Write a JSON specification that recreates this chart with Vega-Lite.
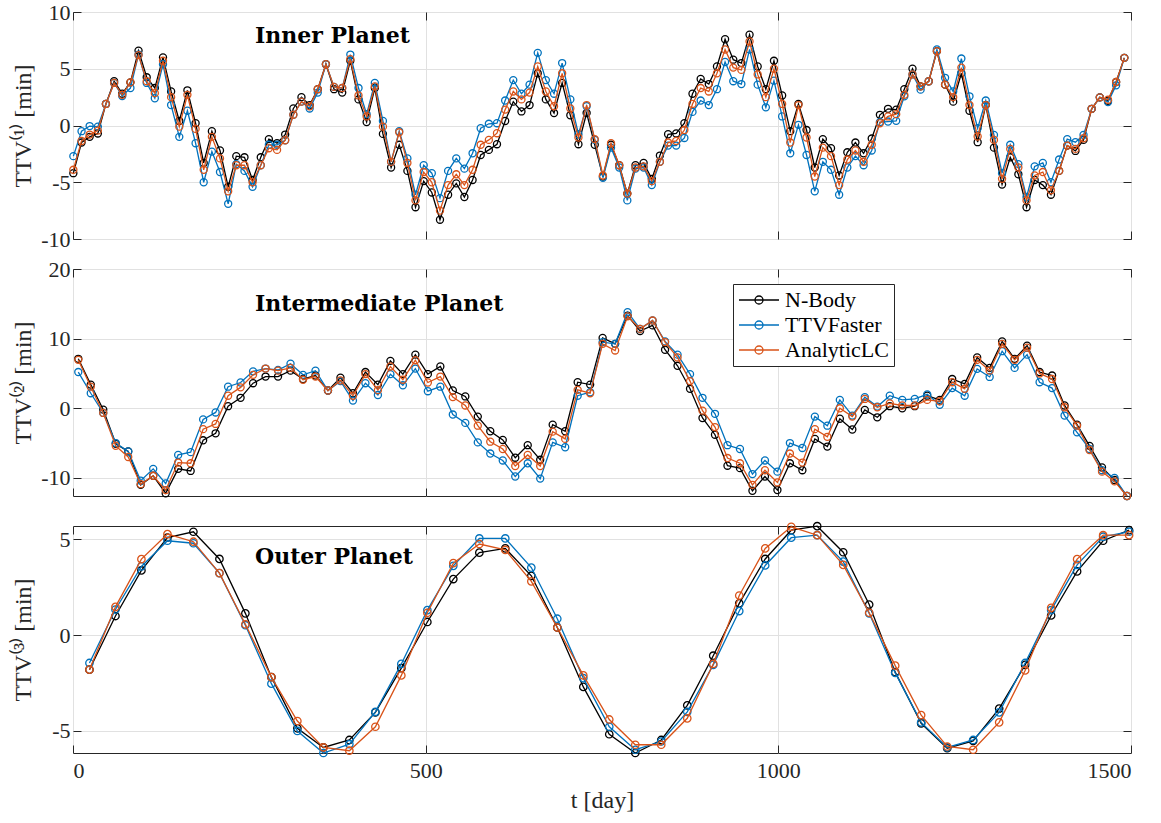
{
  "$schema": "https://vega.github.io/schema/vega-lite/v6.json",
  "background": "white",
  "padding": {"left": 10, "top": 0, "right": 5, "bottom": 5},
  "bounds": "flush",
  "spacing": 30,
  "datasets": {
    "p1": [
      {"t":0.5,"N":-4.2,"T":-2.7,"A":-3.9},{"t":12.1,"N":-1.5,"T":-0.5,"A":-1.36},{"t":23.6,"N":-1.0,"T":-0.05,"A":-0.8},{"t":35.2,"N":-0.7,"T":-0.1,"A":-0.45},
      {"t":46.7,"N":1.9,"T":1.9,"A":1.9},{"t":58.3,"N":3.9,"T":3.75,"A":3.75},{"t":69.8,"N":2.8,"T":2.6,"A":2.7},{"t":81.4,"N":3.8,"T":3.3,"A":3.8},
      {"t":92.9,"N":6.6,"T":6.25,"A":6.2},{"t":104.5,"N":4.25,"T":3.75,"A":3.9},{"t":116.0,"N":3.3,"T":2.4,"A":2.85},{"t":127.6,"N":6.0,"T":5.4,"A":5.7},
      {"t":139.1,"N":3.0,"T":1.8,"A":2.5},{"t":150.7,"N":0.4,"T":-1.0,"A":-0.1},{"t":162.2,"N":3.1,"T":1.3,"A":2.7},{"t":173.8,"N":0.2,"T":-1.56,"A":-0.3},
      {"t":185.3,"N":-3.3,"T":-5.0,"A":-3.9},{"t":196.9,"N":-0.5,"T":-2.3,"A":-1.0},{"t":208.4,"N":-2.2,"T":-4.1,"A":-2.9},{"t":220.0,"N":-5.4,"T":-6.9,"A":-5.8},
      {"t":231.5,"N":-2.7,"T":-3.4,"A":-3.5},{"t":243.1,"N":-2.8,"T":-4.0,"A":-3.5},{"t":254.6,"N":-4.8,"T":-5.4,"A":-5.0},{"t":266.2,"N":-2.8,"T":-3.5,"A":-3.5},
      {"t":277.7,"N":-1.2,"T":-1.7,"A":-2.0},{"t":289.3,"N":-1.56,"T":-1.7,"A":-2.15},{"t":300.8,"N":-0.8,"T":-1.3,"A":-1.3},{"t":312.4,"N":1.5,"T":0.95,"A":0.95},
      {"t":323.9,"N":2.5,"T":2.1,"A":2.1},{"t":335.5,"N":1.8,"T":1.5,"A":1.7},{"t":347.0,"N":3.2,"T":2.9,"A":3.2},{"t":358.6,"N":5.4,"T":5.4,"A":5.4},
      {"t":370.1,"N":3.2,"T":3.4,"A":3.4},{"t":381.7,"N":2.9,"T":3.3,"A":3.3},{"t":393.2,"N":5.7,"T":6.25,"A":5.85},{"t":404.8,"N":2.3,"T":3.3,"A":2.65},
      {"t":416.3,"N":0.3,"T":1.0,"A":0.8},{"t":427.9,"N":3.3,"T":3.75,"A":3.45},{"t":439.4,"N":-0.74,"T":0.4,"A":-0.1},{"t":451.0,"N":-3.7,"T":-3.2,"A":-3.2},
      {"t":462.5,"N":-1.7,"T":-0.5,"A":-0.6},{"t":474.1,"N":-4.0,"T":-2.9,"A":-3.3},{"t":485.6,"N":-7.2,"T":-6.1,"A":-6.6},{"t":497.2,"N":-4.9,"T":-3.5,"A":-4.1},
      {"t":508.7,"N":-5.9,"T":-4.2,"A":-5.0},{"t":520.3,"N":-8.3,"T":-6.4,"A":-7.5},{"t":531.8,"N":-6.1,"T":-4.0,"A":-5.25},{"t":543.4,"N":-5.1,"T":-2.9,"A":-4.3},
      {"t":554.9,"N":-6.3,"T":-3.8,"A":-5.25},{"t":566.5,"N":-4.8,"T":-2.45,"A":-3.9},{"t":578.0,"N":-2.6,"T":-0.24,"A":-1.7},{"t":589.6,"N":-2.15,"T":0.15,"A":-1.27},
      {"t":601.1,"N":-1.65,"T":0.2,"A":-0.68},{"t":612.7,"N":0.4,"T":2.2,"A":1.4},{"t":624.2,"N":2.1,"T":4.0,"A":3.0},{"t":635.8,"N":1.24,"T":2.8,"A":2.3},
      {"t":647.3,"N":1.8,"T":3.6,"A":2.9},{"t":658.9,"N":4.6,"T":6.4,"A":5.2},{"t":670.4,"N":2.3,"T":4.0,"A":3.0},{"t":682.0,"N":1.1,"T":2.8,"A":1.7},
      {"t":693.5,"N":3.75,"T":5.5,"A":4.6},{"t":705.1,"N":0.9,"T":2.3,"A":1.5},{"t":716.6,"N":-1.65,"T":-0.77,"A":-1.06},{"t":728.2,"N":1.1,"T":1.7,"A":1.8},
      {"t":739.7,"N":-1.7,"T":-1.27,"A":-1.2},{"t":751.3,"N":-4.5,"T":-4.6,"A":-4.4},{"t":762.8,"N":-1.7,"T":-1.95,"A":-1.56},{"t":774.4,"N":-3.5,"T":-3.7,"A":-3.5},
      {"t":785.9,"N":-6.0,"T":-6.6,"A":-6.0},{"t":797.5,"N":-3.5,"T":-3.8,"A":-3.7},{"t":809.0,"N":-3.3,"T":-3.7,"A":-3.6},{"t":820.6,"N":-4.7,"T":-5.25,"A":-4.9},
      {"t":832.1,"N":-2.65,"T":-3.2,"A":-3.2},{"t":843.7,"N":-0.77,"T":-1.77,"A":-1.5},{"t":855.2,"N":-0.7,"T":-1.77,"A":-1.36},{"t":866.8,"N":0.2,"T":-1.1,"A":-0.4},
      {"t":878.3,"N":2.8,"T":1.2,"A":1.9},{"t":889.9,"N":4.1,"T":2.2,"A":3.3},{"t":901.4,"N":3.65,"T":1.8,"A":3.0},{"t":913.0,"N":5.2,"T":3.2,"A":4.6},
      {"t":924.5,"N":7.6,"T":5.6,"A":6.7},{"t":936.1,"N":5.8,"T":3.9,"A":5.1},{"t":947.6,"N":5.5,"T":3.65,"A":4.9},{"t":959.2,"N":8.0,"T":6.7,"A":7.4},
      {"t":970.7,"N":5.2,"T":3.6,"A":4.5},{"t":982.3,"N":3.2,"T":1.6,"A":2.5},{"t":993.8,"N":5.7,"T":3.95,"A":5.0},{"t":1005.4,"N":2.65,"T":0.8,"A":1.9},
      {"t":1016.9,"N":-0.5,"T":-2.45,"A":-1.5},{"t":1028.5,"N":1.9,"T":0.06,"A":1.8},{"t":1040.0,"N":-0.4,"T":-2.6,"A":-1.06},{"t":1051.6,"N":-3.7,"T":-5.8,"A":-4.5},
      {"t":1063.1,"N":-1.2,"T":-3.2,"A":-1.95},{"t":1074.7,"N":-2.0,"T":-3.9,"A":-2.7},{"t":1086.2,"N":-4.4,"T":-6.1,"A":-5.25},{"t":1097.8,"N":-2.36,"T":-3.7,"A":-3.0},
      {"t":1109.3,"N":-1.5,"T":-2.7,"A":-2.2},{"t":1120.9,"N":-2.45,"T":-3.5,"A":-3.2},{"t":1132.4,"N":-1.15,"T":-2.2,"A":-1.7},{"t":1144.0,"N":0.94,"T":0.3,"A":0.2},
      {"t":1155.5,"N":1.47,"T":0.35,"A":0.8},{"t":1167.1,"N":1.39,"T":0.41,"A":1.0},{"t":1178.6,"N":3.2,"T":2.57,"A":2.7},{"t":1190.2,"N":5.0,"T":4.5,"A":4.5},
      {"t":1201.7,"N":3.45,"T":3.16,"A":3.45},{"t":1213.3,"N":3.9,"T":3.9,"A":3.9},{"t":1224.8,"N":6.55,"T":6.7,"A":6.55},{"t":1236.4,"N":3.6,"T":4.2,"A":3.6},
      {"t":1247.9,"N":2.1,"T":3.0,"A":2.5},{"t":1259.5,"N":4.6,"T":5.9,"A":5.1},{"t":1271.0,"N":1.3,"T":2.57,"A":1.8},{"t":1282.6,"N":-1.47,"T":-0.24,"A":-0.97},
      {"t":1294.1,"N":1.8,"T":2.2,"A":1.8},{"t":1305.7,"N":-1.95,"T":-0.83,"A":-1.27},{"t":1317.2,"N":-5.2,"T":-4.2,"A":-4.7},{"t":1328.8,"N":-2.8,"T":-1.7,"A":-2.06},
      {"t":1340.3,"N":-4.3,"T":-3.4,"A":-3.7},{"t":1351.9,"N":-7.2,"T":-6.3,"A":-6.6},{"t":1363.4,"N":-4.8,"T":-3.6,"A":-4.4},{"t":1375.0,"N":-5.25,"T":-3.3,"A":-4.1},
      {"t":1386.5,"N":-6.1,"T":-5.0,"A":-5.7},{"t":1398.1,"N":-4.0,"T":-3.0,"A":-4.0},{"t":1409.6,"N":-1.77,"T":-1.2,"A":-1.77},{"t":1421.2,"N":-2.24,"T":-1.47,"A":-2.06},
      {"t":1432.7,"N":-1.27,"T":-0.83,"A":-1.12},{"t":1444.3,"N":1.47,"T":1.47,"A":1.47},{"t":1455.8,"N":2.48,"T":2.48,"A":2.48},{"t":1467.4,"N":2.18,"T":2.06,"A":2.27},
      {"t":1478.9,"N":3.83,"T":3.54,"A":3.83},{"t":1490.5,"N":5.96,"T":5.96,"A":5.96}
    ],
    "p2": [
      {"t":7.5,"N":7.1,"T":5.2,"A":6.95},{"t":25.2,"N":3.4,"T":2.16,"A":3.1},{"t":42.9,"N":-0.2,"T":-0.67,"A":-0.67},{"t":60.6,"N":-5.1,"T":-5.0,"A":-5.4},
      {"t":78.3,"N":-6.2,"T":-6.2,"A":-7.0},{"t":96.0,"N":-11.0,"T":-10.4,"A":-10.9},{"t":113.7,"N":-9.7,"T":-8.7,"A":-9.7},{"t":131.4,"N":-12.2,"T":-10.8,"A":-11.75},
      {"t":149.1,"N":-8.7,"T":-6.7,"A":-7.8},{"t":166.8,"N":-9.0,"T":-6.3,"A":-7.9},{"t":184.5,"N":-4.6,"T":-1.6,"A":-3.0},{"t":202.2,"N":-3.6,"T":-0.6,"A":-2.25},
      {"t":219.9,"N":0.3,"T":3.1,"A":1.8},{"t":237.6,"N":1.5,"T":3.7,"A":3.0},{"t":255.3,"N":3.6,"T":5.3,"A":4.8},{"t":273.0,"N":4.55,"T":5.7,"A":5.7},
      {"t":290.7,"N":4.55,"T":5.5,"A":5.4},{"t":308.4,"N":5.4,"T":6.4,"A":5.8},{"t":326.1,"N":4.2,"T":4.8,"A":4.1},{"t":343.8,"N":4.7,"T":5.4,"A":4.55},
      {"t":361.5,"N":2.55,"T":2.55,"A":2.55},{"t":379.2,"N":4.4,"T":3.9,"A":4.0},{"t":396.9,"N":2.16,"T":1.1,"A":1.8},{"t":414.6,"N":5.2,"T":3.6,"A":4.9},
      {"t":432.3,"N":3.4,"T":1.9,"A":2.6},{"t":450.0,"N":6.8,"T":4.9,"A":6.0},{"t":467.7,"N":4.9,"T":3.3,"A":4.1},{"t":485.4,"N":7.7,"T":5.7,"A":6.9},
      {"t":503.1,"N":4.9,"T":2.45,"A":3.7},{"t":520.8,"N":6.0,"T":3.1,"A":4.55},{"t":538.5,"N":2.55,"T":-0.9,"A":1.6},{"t":556.2,"N":1.7,"T":-2.1,"A":0.4},
      {"t":573.9,"N":-1.2,"T":-4.9,"A":-2.5},{"t":591.6,"N":-3.3,"T":-6.5,"A":-4.8},{"t":609.3,"N":-4.55,"T":-7.5,"A":-5.85},{"t":627.0,"N":-7.1,"T":-9.8,"A":-8.3},
      {"t":644.7,"N":-5.3,"T":-7.9,"A":-6.7},{"t":662.4,"N":-7.4,"T":-10.1,"A":-8.3},{"t":680.1,"N":-2.35,"T":-4.9,"A":-3.36},{"t":697.8,"N":-3.3,"T":-5.6,"A":-4.4},
      {"t":715.5,"N":3.74,"T":1.8,"A":2.64},{"t":733.2,"N":3.4,"T":2.3,"A":2.16},{"t":750.9,"N":10.1,"T":9.5,"A":9.25},{"t":768.6,"N":9.25,"T":9.25,"A":8.3},
      {"t":786.3,"N":13.3,"T":13.8,"A":13.2},{"t":804.0,"N":11.1,"T":11.4,"A":11.4},{"t":821.7,"N":11.9,"T":12.6,"A":12.6},{"t":839.4,"N":8.4,"T":9.6,"A":9.5},
      {"t":857.1,"N":6.1,"T":7.7,"A":7.3},{"t":874.8,"N":2.8,"T":4.9,"A":3.9},{"t":892.5,"N":-1.4,"T":1.5,"A":-0.34},{"t":910.2,"N":-3.8,"T":-0.8,"A":-2.7},
      {"t":927.9,"N":-8.25,"T":-5.3,"A":-7.15},{"t":945.6,"N":-8.6,"T":-5.85,"A":-7.9},{"t":963.3,"N":-11.85,"T":-9.45,"A":-11.0},{"t":981.0,"N":-9.8,"T":-7.5,"A":-8.9},
      {"t":998.7,"N":-11.75,"T":-9.1,"A":-10.65},{"t":1016.4,"N":-7.9,"T":-5.0,"A":-6.5},{"t":1034.1,"N":-8.9,"T":-5.7,"A":-7.8},{"t":1051.8,"N":-4.4,"T":-1.2,"A":-3.0},
      {"t":1069.5,"N":-5.5,"T":-2.5,"A":-4.1},{"t":1087.2,"N":-1.5,"T":1.2,"A":0.0},{"t":1104.9,"N":-3.05,"T":-1.05,"A":-1.2},{"t":1122.6,"N":-0.24,"T":1.6,"A":1.34},
      {"t":1140.3,"N":-1.3,"T":0.24,"A":0.14},{"t":1158.0,"N":0.3,"T":1.8,"A":0.7},{"t":1175.7,"N":0.0,"T":1.2,"A":0.4},{"t":1193.4,"N":0.3,"T":1.34,"A":0.4},
      {"t":1211.1,"N":1.8,"T":2.0,"A":1.2},{"t":1228.8,"N":1.2,"T":0.5,"A":1.0},{"t":1246.5,"N":4.2,"T":2.9,"A":3.74},{"t":1264.2,"N":3.5,"T":1.8,"A":2.8},
      {"t":1281.9,"N":7.3,"T":5.66,"A":6.95},{"t":1299.6,"N":5.8,"T":4.5,"A":5.4},{"t":1317.3,"N":9.6,"T":8.2,"A":9.25},{"t":1335.0,"N":7.1,"T":5.8,"A":6.95},
      {"t":1352.7,"N":9.0,"T":7.7,"A":8.7},{"t":1370.4,"N":5.2,"T":3.74,"A":5.0},{"t":1388.1,"N":4.7,"T":2.9,"A":4.2},{"t":1405.8,"N":0.4,"T":-1.05,"A":0.14},
      {"t":1423.5,"N":-2.35,"T":-3.45,"A":-2.5},{"t":1441.2,"N":-5.4,"T":-5.85,"A":-6.0},{"t":1458.9,"N":-8.5,"T":-8.9,"A":-9.1},{"t":1476.6,"N":-10.3,"T":-10.0,"A":-10.5},
      {"t":1494.3,"N":-12.6,"T":-12.6,"A":-12.6}
    ],
    "p3": [
      {"t":23.3,"N":-1.8,"T":-1.45,"A":-1.8},{"t":60.2,"N":1.0,"T":1.34,"A":1.48},{"t":97.0,"N":3.38,"T":3.59,"A":3.97},{"t":133.9,"N":5.1,"T":4.93,"A":5.28},
      {"t":170.7,"N":5.4,"T":4.8,"A":4.88},{"t":207.6,"N":3.98,"T":3.24,"A":3.24},{"t":244.4,"N":1.14,"T":0.52,"A":0.57},{"t":281.3,"N":-2.19,"T":-2.53,"A":-2.19},
      {"t":318.1,"N":-4.86,"T":-5.0,"A":-4.48},{"t":355.0,"N":-5.86,"T":-6.15,"A":-5.86},{"t":391.8,"N":-5.47,"T":-5.69,"A":-6.03},{"t":428.7,"N":-4.03,"T":-4.0,"A":-4.78},
      {"t":465.5,"N":-1.72,"T":-1.5,"A":-2.1},{"t":502.4,"N":0.69,"T":1.31,"A":1.17},{"t":539.2,"N":2.93,"T":3.62,"A":3.76},{"t":576.1,"N":4.31,"T":5.05,"A":4.76},
      {"t":612.9,"N":4.53,"T":5.05,"A":4.45},{"t":649.8,"N":3.1,"T":3.53,"A":2.81},{"t":686.6,"N":0.4,"T":0.86,"A":0.4},{"t":723.5,"N":-2.7,"T":-2.24,"A":-2.1},
      {"t":760.3,"N":-5.17,"T":-4.78,"A":-4.4},{"t":797.2,"N":-6.15,"T":-5.98,"A":-5.72},{"t":834.0,"N":-5.47,"T":-5.55,"A":-5.72},{"t":870.9,"N":-3.66,"T":-4.0,"A":-4.34},
      {"t":907.7,"N":-1.07,"T":-1.55,"A":-1.5},{"t":944.6,"N":1.66,"T":1.26,"A":2.07},{"t":981.4,"N":3.98,"T":3.64,"A":4.53},{"t":1018.3,"N":5.48,"T":5.09,"A":5.66},
      {"t":1055.1,"N":5.69,"T":5.22,"A":5.22},{"t":1092.0,"N":4.33,"T":3.84,"A":3.67},{"t":1128.8,"N":1.6,"T":1.14,"A":1.17},{"t":1165.7,"N":-1.93,"T":-1.97,"A":-1.59},
      {"t":1202.5,"N":-4.6,"T":-4.55,"A":-4.17},{"t":1239.4,"N":-5.9,"T":-5.86,"A":-5.81},{"t":1276.2,"N":-5.52,"T":-5.47,"A":-5.98},{"t":1313.1,"N":-3.83,"T":-4.03,"A":-4.55},
      {"t":1349.9,"N":-1.55,"T":-1.45,"A":-1.84},{"t":1386.8,"N":1.03,"T":1.31,"A":1.43},{"t":1423.6,"N":3.33,"T":3.67,"A":3.97},{"t":1460.5,"N":4.93,"T":5.14,"A":5.22},
      {"t":1497.3,"N":5.48,"T":5.4,"A":5.22}
    ]
  },
  "vconcat": [
    {
      "width": 1058,
      "height": 227,
      "data": {"name": "p1"},
      "resolve": {"axis": {"x": "independent", "y": "independent"}},
      "layer": [
        {
          "mark": {"type": "line", "color": "#000000", "strokeWidth": 1.3, "point": {"filled": false, "size": 50, "strokeWidth": 1.3, "color": "#000000"}},
          "encoding": {
            "x": {"field": "t", "type": "quantitative", "scale": {"domain": [0, 1500], "nice": false}, "axis": {"values": [0, 500, 1000, 1500], "labels": false, "title": null}},
            "y": {"field": "N", "type": "quantitative", "scale": {"domain": [-10, 10], "nice": false, "zero": false}, "axis": {"values": [-10, -5, 0, 5, 10], "title": "TTV⁽¹⁾ [min]", "titleX": -38, "labelExpr": "'' + datum.value"}}
          }
        },
        {
          "mark": {"type": "line", "color": "#0072BD", "strokeWidth": 1.3, "point": {"filled": false, "size": 50, "strokeWidth": 1.3, "color": "#0072BD"}},
          "encoding": {
            "x": {"field": "t", "type": "quantitative", "scale": {"domain": [0, 1500], "nice": false}, "axis": null},
            "y": {"field": "T", "type": "quantitative", "scale": {"domain": [-10, 10], "nice": false, "zero": false}, "axis": null}
          }
        },
        {
          "mark": {"type": "line", "color": "#D95319", "strokeWidth": 1.3, "point": {"filled": false, "size": 50, "strokeWidth": 1.3, "color": "#D95319"}},
          "encoding": {
            "x": {"field": "t", "type": "quantitative", "scale": {"domain": [0, 1500], "nice": false}, "axis": null},
            "y": {"field": "A", "type": "quantitative", "scale": {"domain": [-10, 10], "nice": false, "zero": false}, "axis": null}
          }
        },
        {
          "data": {"values": [{"t": 258, "v": 7.25, "s": "Inner Planet"}]},
          "mark": {"type": "text", "font": "DejaVu Serif", "fontWeight": "bold", "fontSize": 22, "align": "left", "baseline": "alphabetic", "color": "#000000"},
          "encoding": {
            "x": {"field": "t", "type": "quantitative", "scale": {"domain": [0, 1500], "nice": false}, "axis": {"orient": "top", "values": [0, 500, 1000, 1500], "labels": false, "grid": false, "title": null}},
            "y": {"field": "v", "type": "quantitative", "scale": {"domain": [-10, 10], "nice": false, "zero": false}, "axis": {"orient": "right", "values": [-10, -5, 0, 5, 10], "labels": false, "grid": false, "title": null}},
            "text": {"field": "s"}
          }
        }
      ]
    },
    {
      "width": 1058,
      "height": 227,
      "data": {"name": "p2"},
      "resolve": {"axis": {"x": "independent", "y": "independent"}},
      "layer": [
        {
          "mark": {"type": "line", "strokeWidth": 1.3, "point": {"filled": false, "size": 50, "strokeWidth": 1.3}},
          "encoding": {
            "x": {"field": "t", "type": "quantitative", "scale": {"domain": [0, 1500], "nice": false}, "axis": {"values": [0, 500, 1000, 1500], "labels": false, "title": null}},
            "y": {"field": "N", "type": "quantitative", "scale": {"domain": [-12.6, 20], "nice": false, "zero": false}, "axis": {"values": [-10, 0, 10, 20], "title": "TTV⁽²⁾ [min]", "titleX": -38, "labelExpr": "'' + datum.value"}},
            "color": {
              "datum": "N-Body",
              "type": "nominal",
              "scale": {"domain": ["N-Body", "TTVFaster", "AnalyticLC"], "range": ["#000000", "#0072BD", "#D95319"]},
              "legend": {
                "orient": "none", "legendX": 660, "legendY": 15, "title": null,
                "symbolType": "M-1,0L3,0M1.4,0A0.4,0.4,0,1,1,0.6,0A0.4,0.4,0,1,1,1.4,0",
                "symbolSize": 400, "symbolStrokeWidth": 1.3, "symbolFillColor": "transparent",
                "labelFont": "Liberation Serif", "labelFontSize": 22, "labelColor": "#000000", "labelOffset": 25,
                "padding": 5, "rowPadding": 3, "strokeColor": "#262626", "fillColor": "#ffffff"
              }
            }
          }
        },
        {
          "mark": {"type": "line", "strokeWidth": 1.3, "point": {"filled": false, "size": 50, "strokeWidth": 1.3}},
          "encoding": {
            "x": {"field": "t", "type": "quantitative", "scale": {"domain": [0, 1500], "nice": false}, "axis": null},
            "y": {"field": "T", "type": "quantitative", "scale": {"domain": [-12.6, 20], "nice": false, "zero": false}, "axis": null},
            "color": {"datum": "TTVFaster", "type": "nominal"}
          }
        },
        {
          "mark": {"type": "line", "strokeWidth": 1.3, "point": {"filled": false, "size": 50, "strokeWidth": 1.3}},
          "encoding": {
            "x": {"field": "t", "type": "quantitative", "scale": {"domain": [0, 1500], "nice": false}, "axis": null},
            "y": {"field": "A", "type": "quantitative", "scale": {"domain": [-12.6, 20], "nice": false, "zero": false}, "axis": null},
            "color": {"datum": "AnalyticLC", "type": "nominal"}
          }
        },
        {
          "data": {"values": [{"t": 258, "v": 14.0, "s": "Intermediate Planet"}]},
          "mark": {"type": "text", "font": "DejaVu Serif", "fontWeight": "bold", "fontSize": 22, "align": "left", "baseline": "alphabetic", "color": "#000000"},
          "encoding": {
            "x": {"field": "t", "type": "quantitative", "scale": {"domain": [0, 1500], "nice": false}, "axis": {"orient": "top", "values": [0, 500, 1000, 1500], "labels": false, "grid": false, "title": null}},
            "y": {"field": "v", "type": "quantitative", "scale": {"domain": [-12.6, 20], "nice": false, "zero": false}, "axis": {"orient": "right", "values": [-10, 0, 10, 20], "labels": false, "grid": false, "title": null}},
            "text": {"field": "s"}
          }
        }
      ]
    },
    {
      "width": 1058,
      "height": 227,
      "data": {"name": "p3"},
      "resolve": {"axis": {"x": "independent", "y": "independent"}},
      "layer": [
        {
          "mark": {"type": "line", "color": "#000000", "strokeWidth": 1.3, "point": {"filled": false, "size": 55, "strokeWidth": 1.3, "color": "#000000"}},
          "encoding": {
            "x": {"field": "t", "type": "quantitative", "scale": {"domain": [0, 1500], "nice": false}, "axis": {"values": [0, 500, 1000, 1500], "title": "t [day]", "labelPadding": 15, "titlePadding": 7, "labelExpr": "'' + datum.value"}},
            "y": {"field": "N", "type": "quantitative", "scale": {"domain": [-6.15, 5.7], "nice": false, "zero": false}, "axis": {"values": [-5, 0, 5], "title": "TTV⁽³⁾ [min]", "titleX": -38, "labelExpr": "'' + datum.value"}}
          }
        },
        {
          "mark": {"type": "line", "color": "#0072BD", "strokeWidth": 1.3, "point": {"filled": false, "size": 55, "strokeWidth": 1.3, "color": "#0072BD"}},
          "encoding": {
            "x": {"field": "t", "type": "quantitative", "scale": {"domain": [0, 1500], "nice": false}, "axis": null},
            "y": {"field": "T", "type": "quantitative", "scale": {"domain": [-6.15, 5.7], "nice": false, "zero": false}, "axis": null}
          }
        },
        {
          "mark": {"type": "line", "color": "#D95319", "strokeWidth": 1.3, "point": {"filled": false, "size": 55, "strokeWidth": 1.3, "color": "#D95319"}},
          "encoding": {
            "x": {"field": "t", "type": "quantitative", "scale": {"domain": [0, 1500], "nice": false}, "axis": null},
            "y": {"field": "A", "type": "quantitative", "scale": {"domain": [-6.15, 5.7], "nice": false, "zero": false}, "axis": null}
          }
        },
        {
          "data": {"values": [{"t": 258, "v": 3.7, "s": "Outer Planet"}]},
          "mark": {"type": "text", "font": "DejaVu Serif", "fontWeight": "bold", "fontSize": 22, "align": "left", "baseline": "alphabetic", "color": "#000000"},
          "encoding": {
            "x": {"field": "t", "type": "quantitative", "scale": {"domain": [0, 1500], "nice": false}, "axis": {"orient": "top", "values": [0, 500, 1000, 1500], "labels": false, "grid": false, "title": null}},
            "y": {"field": "v", "type": "quantitative", "scale": {"domain": [-6.15, 5.7], "nice": false, "zero": false}, "axis": {"orient": "right", "values": [-5, 0, 5], "labels": false, "grid": false, "title": null}},
            "text": {"field": "s"}
          }
        }
      ]
    }
  ],
  "resolve": {"scale": {"color": "independent"}, "legend": {"color": "independent"}},
  "config": {
    "font": "Liberation Serif",
    "view": {"stroke": "#262626", "strokeWidth": 1},
    "axis": {
      "domain": false,
      "grid": true,
      "gridColor": "#e1e1e1",
      "gridWidth": 1,
      "tickColor": "#262626",
      "tickSize": -8,
      "tickWidth": 1,
      "labelFont": "Liberation Serif",
      "labelFontSize": 22,
      "labelColor": "#262626",
      "labelPadding": 11,
      "titleFont": "Liberation Serif",
      "titleFontSize": 24,
      "titleFontWeight": "normal",
      "titleColor": "#262626"
    }
  }
}
